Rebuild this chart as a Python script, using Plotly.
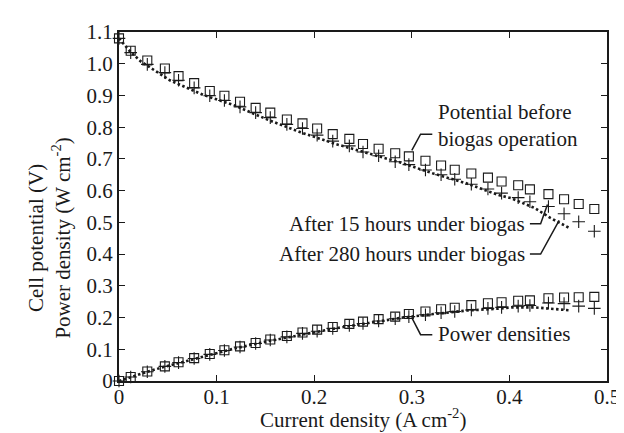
import plotly.graph_objects as go

# ---- data ----
# before biogas operation (open squares)
x_before = [0, 0.012, 0.029, 0.047, 0.061, 0.077, 0.093, 0.108, 0.124, 0.140, 0.155, 0.172,
            0.188, 0.203, 0.219, 0.236, 0.250, 0.266, 0.283, 0.297, 0.314, 0.330, 0.344,
            0.361, 0.378, 0.392, 0.409, 0.421, 0.440, 0.456, 0.471, 0.487]
v_before = [1.080, 1.041, 1.010, 0.985, 0.961, 0.939, 0.914, 0.899, 0.880, 0.861, 0.846, 0.824,
            0.812, 0.796, 0.778, 0.763, 0.747, 0.732, 0.718, 0.708, 0.694, 0.679, 0.666,
            0.654, 0.641, 0.629, 0.617, 0.604, 0.589, 0.573, 0.558, 0.542]
p_before = [0.0, 0.0125, 0.030, 0.046, 0.059, 0.072, 0.085, 0.097, 0.109, 0.120, 0.131, 0.142,
            0.153, 0.162, 0.170, 0.180, 0.187, 0.195, 0.203, 0.211, 0.219, 0.226, 0.231,
            0.239, 0.245, 0.248, 0.253, 0.254, 0.261, 0.263, 0.264, 0.265]

# after 15 hours under biogas (plus markers)
x_15h = x_before
v_15h = [1.080, 1.035, 0.998, 0.972, 0.948, 0.924, 0.899, 0.884, 0.864, 0.846, 0.830, 0.809,
         0.796, 0.775, 0.756, 0.741, 0.722, 0.710, 0.691, 0.682, 0.665, 0.650, 0.636,
         0.620, 0.605, 0.592, 0.578, 0.565, 0.550, 0.527, 0.502, 0.472]
p_15h = [0.0, 0.0124, 0.029, 0.046, 0.058, 0.071, 0.084, 0.096, 0.107, 0.118, 0.129, 0.139,
         0.150, 0.157, 0.166, 0.175, 0.181, 0.189, 0.196, 0.203, 0.209, 0.215, 0.219,
         0.224, 0.229, 0.232, 0.236, 0.238, 0.246, 0.244, 0.236, 0.229]

# after 280 hours under biogas (dotted)
x_280h = [0, 0.011, 0.022, 0.042, 0.052, 0.086, 0.119, 0.152, 0.186, 0.222, 0.256, 0.289,
          0.322, 0.356, 0.389, 0.402, 0.426, 0.442, 0.461]
v_280h = [1.080, 1.040, 1.008, 0.968, 0.948, 0.902, 0.868, 0.824, 0.784, 0.747, 0.716, 0.688,
          0.654, 0.623, 0.586, 0.576, 0.545, 0.514, 0.483]
p_280h = [0.0, 0.0114, 0.022, 0.041, 0.049, 0.078, 0.103, 0.125, 0.146, 0.166, 0.183, 0.199,
          0.211, 0.222, 0.228, 0.232, 0.232, 0.227, 0.223]

x_ticks = [0, 0.1, 0.2, 0.3, 0.4, 0.5]
x_ticktext = ["0", "0.1", "0.2", "0.3", "0.4", "0.5"]
y_ticks = [0, 0.1, 0.2, 0.3, 0.4, 0.5, 0.6, 0.7, 0.8, 0.9, 1.0, 1.1]
y_ticktext = ["0", "0.1", "0.2", "0.3", "0.4", "0.5", "0.6", "0.7", "0.8", "0.9", "1.0", "1.1"]

INK = "#1a1a1a"
FONT = "Liberation Serif, Times New Roman, DejaVu Serif, serif"
FS = 21

fig = go.Figure()

sq = dict(symbol="square-open", size=9, color=INK, line=dict(width=1.1, color=INK))
pl = dict(symbol="cross-thin-open", size=9, color=INK, line=dict(width=1.1, color=INK))
dot_line = dict(color=INK, width=2.6, dash="2.5px,2.5px")

fig.add_trace(go.Scatter(x=x_280h, y=v_280h, mode="lines", line=dot_line, cliponaxis=False))
fig.add_trace(go.Scatter(x=x_280h, y=p_280h, mode="lines", line=dot_line, cliponaxis=False))
fig.add_trace(go.Scatter(x=x_15h, y=v_15h, mode="markers", marker=pl, cliponaxis=False))
fig.add_trace(go.Scatter(x=x_15h, y=p_15h, mode="markers", marker=pl, cliponaxis=False))
fig.add_trace(go.Scatter(x=x_before, y=v_before, mode="markers", marker=sq, cliponaxis=False))
fig.add_trace(go.Scatter(x=x_before, y=p_before, mode="markers", marker=sq, cliponaxis=False))

# leader lines
leaders = [
    [(0.321, 0.778), (0.309, 0.778), (0.300, 0.727)],
    [(0.421, 0.496), (0.432, 0.496), (0.439, 0.556)],
    [(0.421, 0.400), (0.432, 0.400), (0.451, 0.506)],
    [(0.321, 0.146), (0.309, 0.146), (0.300, 0.200)],
]
for pts in leaders:
    path = "M " + " L ".join(f"{x},{y}" for x, y in pts)
    fig.add_shape(type="path", path=path, xref="x", yref="y",
                  line=dict(color=INK, width=1.5))

tfont = dict(family=FONT, size=FS, color=INK)
fig.add_annotation(x=0.325, y=0.805, xref="x", yref="y", text="Potential before<br>biogas operation",
                   showarrow=False, xanchor="left", yanchor="middle", align="left", font=tfont)
fig.add_annotation(x=0.418, y=0.495, xref="x", yref="y", text="After 15 hours under biogas",
                   showarrow=False, xanchor="right", yanchor="middle", font=tfont)
fig.add_annotation(x=0.418, y=0.399, xref="x", yref="y", text="After 280 hours under biogas",
                   showarrow=False, xanchor="right", yanchor="middle", font=tfont)
fig.add_annotation(x=0.325, y=0.148, xref="x", yref="y", text="Power densities",
                   showarrow=False, xanchor="left", yanchor="middle", font=tfont)

# y axis title (two lines)
fig.add_annotation(x=-0.142, y=0.41, xref="paper", yref="paper",
                   text="Cell potential (V)<br>Power density (W cm<sup>-2</sup>)",
                   textangle=-90, showarrow=False, xanchor="center", yanchor="middle",
                   align="center", font=tfont)
# x axis title
fig.add_annotation(x=0.5, y=-0.152, xref="paper", yref="paper",
                   text="Current density (A cm<sup>-2</sup>)",
                   showarrow=False, xanchor="center", yanchor="bottom", font=tfont)

axis_common = dict(showgrid=False, zeroline=False, showline=True, linecolor=INK, linewidth=2,
                   mirror="ticks", ticks="inside", ticklen=6, tickwidth=1.2, tickcolor=INK,
                   tickfont=dict(family=FONT, size=FS, color=INK))

fig.update_xaxes(range=[0, 0.5], tickvals=x_ticks, ticktext=x_ticktext,
                 ticklabelstandoff=-4, **axis_common)
fig.update_yaxes(range=[0, 1.1], tickvals=y_ticks, ticktext=y_ticktext, **axis_common)

fig.update_layout(width=624, height=433, showlegend=False,
                  margin=dict(l=111, r=13, t=18, b=60),
                  plot_bgcolor="white", paper_bgcolor="white",
                  font=dict(family=FONT, size=FS, color=INK))

fig.write_html("out.html")
